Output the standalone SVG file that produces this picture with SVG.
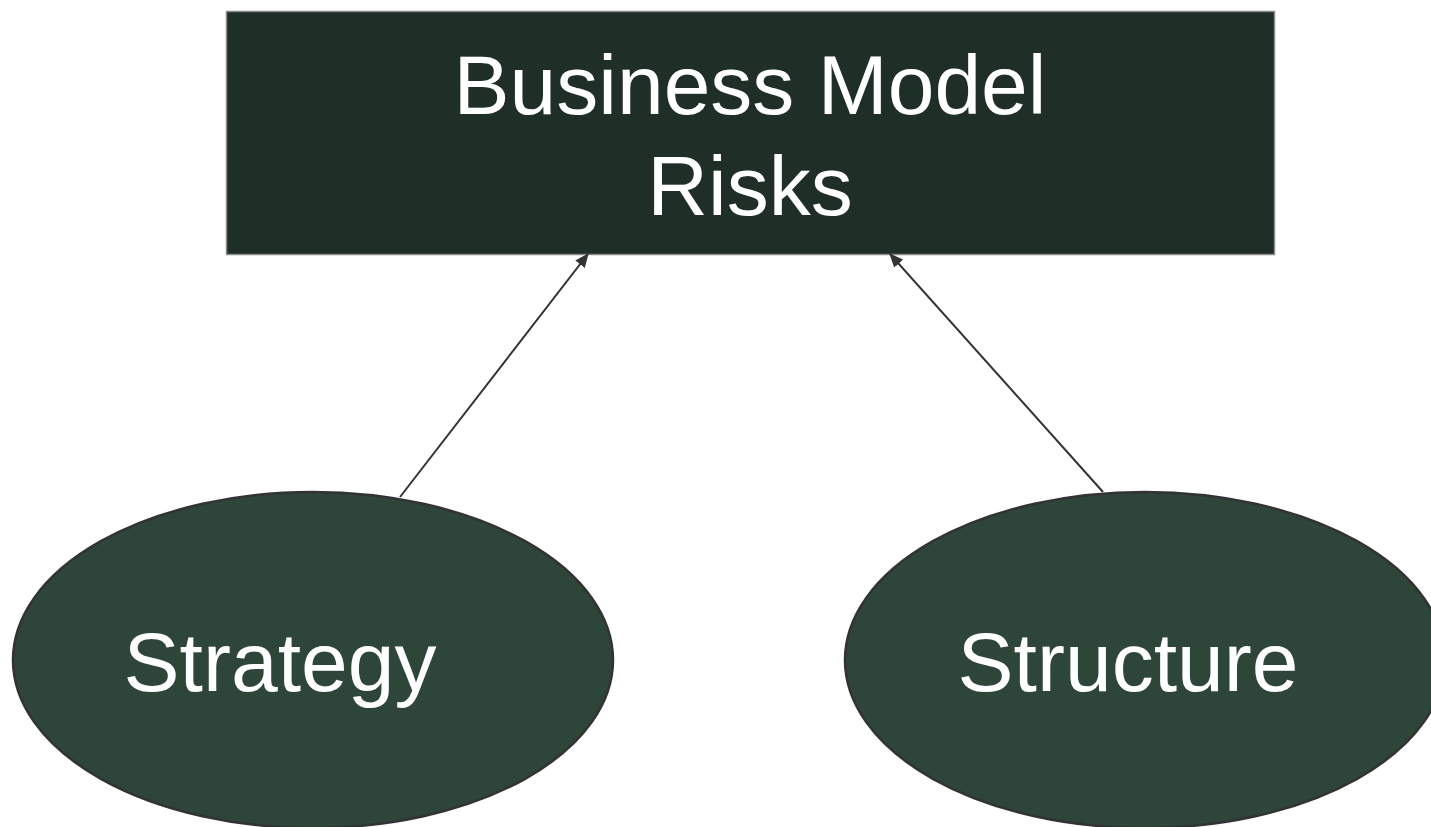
<svg xmlns="http://www.w3.org/2000/svg" width="1431" height="827" viewBox="0 0 1431 827">
<style>
.lbl{font-family:"Liberation Sans",Arial,sans-serif;font-size:84px;fill:#ffffff;text-anchor:middle}
.conn{stroke:#333333;stroke-width:2;fill:none}
.ell{fill:#2e4539;stroke:#333333;stroke-width:2.5}
</style>
<defs>
<marker id="arr" markerWidth="14" markerHeight="12" refX="13" refY="6" orient="auto" markerUnits="userSpaceOnUse">
<path d="M0,0 L14,6 L0,12 Z" fill="#333333"/>
</marker>
</defs>
<rect width="1431" height="827" fill="#ffffff"/>
<g id="node-bmr">
<rect x="226.500" y="11.500" width="1048" height="243" fill="#1f2e27" stroke="#8a8a8a" stroke-width="1.5"/>
<text class="lbl" x="750" y="114">Business Model</text>
<text class="lbl" x="750" y="215">Risks</text>
</g>
<g id="node-strategy">
<ellipse class="ell" cx="313" cy="660" rx="300" ry="168"/>
<text class="lbl" x="280" y="691">Strategy</text>
</g>
<g id="node-structure">
<ellipse class="ell" cx="1145" cy="660" rx="300" ry="168"/>
<text class="lbl" x="1128" y="691">Structure</text>
</g>
<g id="connectors">
<line class="conn" x1="400" y1="497" x2="588" y2="254" marker-end="url(#arr)"/>
<line class="conn" x1="1103" y1="492" x2="890" y2="254" marker-end="url(#arr)"/>
</g>
</svg>
